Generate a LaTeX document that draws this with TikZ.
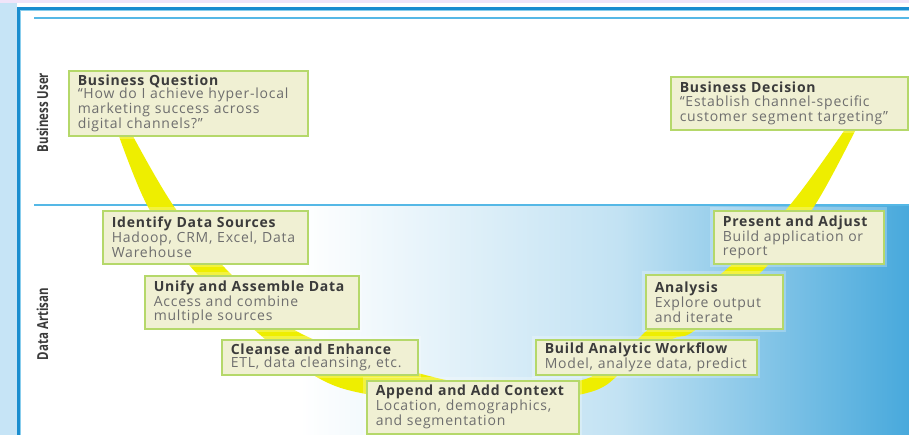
\documentclass[tikz,border=0pt]{standalone}
\usepackage{fontspec}
\setmainfont{Open Sans}[LetterSpace=5.5]
\newfontfamily\lanefont{Open Sans}
\usetikzlibrary{positioning}
\definecolor{lavender}{HTML}{F0E4F9}
\definecolor{sideblue}{HTML}{C6E4F6}
\definecolor{frameblue}{HTML}{1A8DCF}
\definecolor{lineblue}{HTML}{55B8E6}
\definecolor{midblue}{HTML}{C2E2F3}
\definecolor{deepblue}{HTML}{48A9DC}
\definecolor{boxfill}{HTML}{F0F0D3}
\definecolor{boxline}{HTML}{B5D86A}
\definecolor{ribbon}{HTML}{EEEE00}
\definecolor{titlegray}{HTML}{3B3B3B}
\definecolor{bodygray}{HTML}{6E6E6E}
\newcommand{\stagehead}[1]{{\color{titlegray}\bfseries #1}}

\begin{document}
\begin{tikzpicture}[x=1pt,y=-1pt,
    stage/.style={draw=boxline,line width=1.6pt,fill=boxfill,anchor=north west,
      inner xsep=9pt,inner ysep=2pt,align=left,text=bodygray,
      font=\fontsize{14}{13.6}\selectfont,
      execute at begin node={\rightskip=0pt plus 2em minus 20pt\relax},
      preaction={draw=white,draw opacity=0.25,line width=7pt}},
    lane/.style={rotate=90,text=titlegray,inner sep=0pt,font=\lanefont\bfseries}]
  \useasboundingbox (0,0) rectangle (909,435);
  %% page and frame
  \fill[lavender] (0,0) rectangle (909,3);
  \fill[sideblue] (0,3) rectangle (17,435);
  \fill[white] (20,10) rectangle (909,435);
  \shade[left color=white,right color=midblue] (300,206) rectangle (620,435);
  \shade[left color=midblue,right color=deepblue] (619.5,206) rectangle (909,435);
  \draw[frameblue,line width=3pt] (18.5,435) -- (18.5,8.5) -- (909,8.5);
  \draw[lineblue!70,line width=1pt] (20.5,435) -- (20.5,10.5) -- (909,10.5);
  \draw[lineblue,line width=1.8pt] (34,18) -- (909,18);
  \draw[lineblue,line width=2pt] (34,205) -- (909,205);
  %% yellow path
  \fill[ribbon] plot[smooth,tension=0.6] coordinates {(115,125) (147,205) (190,266) (258,333) (313,375) (366,394) (470,405) (578,395) (618,375) (642,335) (728,268) (790,205) (848,125)}
    -- plot[smooth,tension=0.6] coordinates {(858,125) (815,205) (767,266) (698,328) (672,339) (620,360) (578,381) (500,384) (433,377) (300,333) (225,268) (173,205) (127,125)} -- cycle;
  %% lanes
  \node[lane] (user) at (42.5,112.5) {\resizebox{79pt}{11.5pt}{Business User}};
  \node[lane] (artisan) at (42.5,324) {\resizebox{72pt}{11.5pt}{Data Artisan}};
  %% stages
  \node[stage,text width=221pt,minimum height=65pt] (bq) at (68,70) {\stagehead{Business Question}\\ “How do I achieve hyper-local\\ marketing success across\\ digital channels?”};
  \node[stage,text width=219pt,minimum height=53pt] (bd) at (670,76) {\stagehead{Business Decision}\\ “Establish channel-specific\\ customer segment targeting”};
  \node[stage,text width=187pt,minimum height=53pt] (ids) at (102,210) {\stagehead{Identify Data Sources}\\ Hadoop, CRM, Excel, Data\\ Warehouse};
  \node[stage,text width=196pt,minimum height=53pt] (uad) at (144,275) {\stagehead{Unify and Assemble Data}\\ Access and combine\\ multiple sources};
  \node[stage,text width=178pt,minimum height=35pt] (ce) at (221,339) {\stagehead{Cleanse and Enhance}\\ ETL, data cleansing, etc.};
  \node[stage,text width=194pt,minimum height=53pt] (aac) at (366,380) {\stagehead{Append and Add Context}\\ Location, demographics,\\ and segmentation};
  \node[stage,text width=203pt,minimum height=35pt] (baw) at (535,339) {\stagehead{Build Analytic Workflow}\\ Model, analyze data, predict};
  \node[stage,text width=119pt,minimum height=54pt] (an) at (645,274) {\stagehead{Analysis}\\ Explore output\\ and iterate};
  \node[stage,text width=152pt,minimum height=53pt] (pa) at (713,210) {\stagehead{Present and Adjust}\\ Build application or\\ report};
\end{tikzpicture}
\end{document}
